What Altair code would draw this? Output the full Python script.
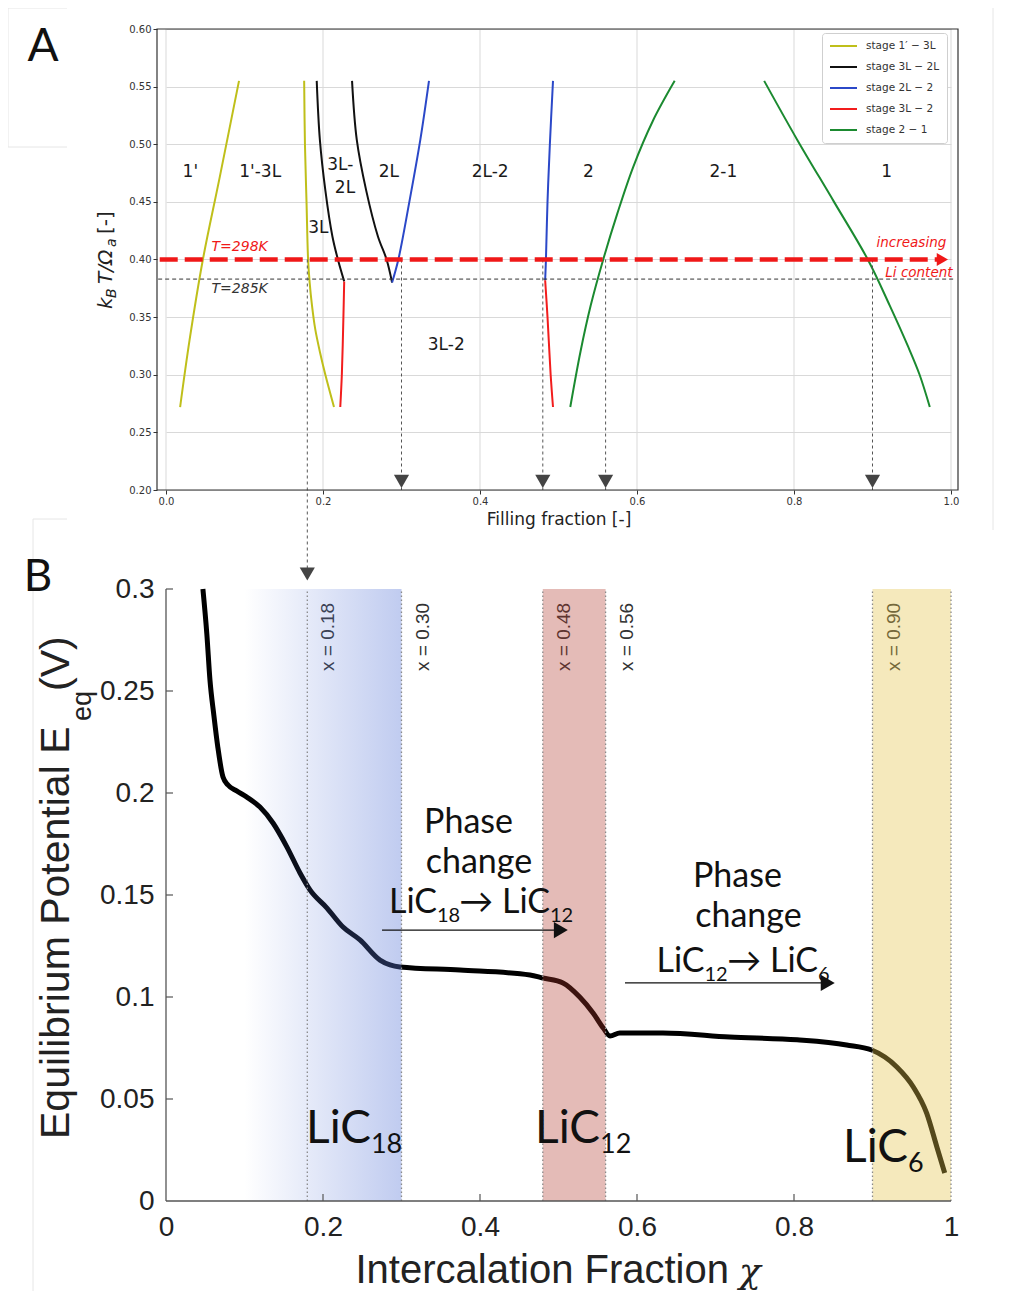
import altair as alt
import pandas as pd

# ======================= Panel A : phase diagram =======================
stages = ["stage 1′ − 3L", "stage 3L − 2L", "stage 2L − 2", "stage 3L − 2", "stage 2 − 1"]
stage_colors = ["#bfbf1a", "#111111", "#2b48c8", "#f21d1d", "#1b8a30"]

yel_L_x = [0.018, 0.030, 0.047, 0.068, 0.093]
yel_L_y = [0.272, 0.330, 0.400, 0.470, 0.555]
yel_R_x = [0.176, 0.177, 0.179, 0.181, 0.183, 0.186, 0.190, 0.196, 0.203, 0.214]
yel_R_y = [0.555, 0.500, 0.450, 0.400, 0.380, 0.360, 0.340, 0.320, 0.300, 0.272]
blk_L_x = [0.192, 0.196, 0.203, 0.212, 0.219, 0.227]
blk_L_y = [0.555, 0.504, 0.460, 0.420, 0.400, 0.381]
blk_R_x = [0.237, 0.243, 0.255, 0.270, 0.281, 0.288]
blk_R_y = [0.555, 0.504, 0.460, 0.420, 0.400, 0.380]
blu_L_x = [0.288, 0.296, 0.310, 0.324, 0.335]
blu_L_y = [0.380, 0.400, 0.450, 0.504, 0.555]
blu_R_x = [0.493, 0.489, 0.486, 0.484, 0.483]
blu_R_y = [0.555, 0.500, 0.450, 0.400, 0.382]
red_L_x = [0.227, 0.226, 0.224, 0.222]
red_L_y = [0.381, 0.350, 0.300, 0.272]
red_R_x = [0.483, 0.486, 0.490, 0.493]
red_R_y = [0.382, 0.350, 0.300, 0.272]
grn_L_x = [0.515, 0.528, 0.541, 0.557, 0.575, 0.595, 0.620, 0.648]
grn_L_y = [0.272, 0.320, 0.360, 0.400, 0.440, 0.480, 0.520, 0.555]
grn_R_x = [0.762, 0.804, 0.851, 0.894, 0.922, 0.945, 0.960, 0.973]
grn_R_y = [0.555, 0.504, 0.450, 0.400, 0.360, 0.325, 0.300, 0.272]

region_labels = ["1'", "1'-3L", "3L-", "2L", "2L", "2L-2", "2", "2-1", "1", "3L", "3L-2"]
region_x = [0.031, 0.120, 0.222, 0.228, 0.284, 0.413, 0.538, 0.710, 0.918, 0.194, 0.357]
region_y = [0.476, 0.476, 0.482, 0.462, 0.476, 0.476, 0.476, 0.476, 0.476, 0.427, 0.326]

T298 = 0.400
T285 = 0.383
marker_x = [0.30, 0.48, 0.56, 0.90]
link_x = 0.18
gridA_x = [0.0, 0.2, 0.4, 0.6, 0.8, 1.0]
ticksA_y = [0.20, 0.25, 0.30, 0.35, 0.40, 0.45, 0.50, 0.55, 0.60]

# ======================= Panel B : equilibrium potential =======================
chi = [0.047, 0.052, 0.056, 0.061, 0.066, 0.0726, 0.079, 0.090, 0.103, 0.1197,
       0.1363, 0.1541, 0.1707, 0.1834, 0.2051, 0.2255, 0.2471, 0.2726, 0.2854, 0.298,
       0.3745, 0.4637, 0.480, 0.5057, 0.527, 0.544, 0.557, 0.5656, 0.578, 0.633,
       0.718, 0.804, 0.867, 0.899, 0.931, 0.952, 0.969, 0.982, 0.992]
E_eq = [0.300, 0.278, 0.2554, 0.238, 0.2225, 0.2078, 0.2039, 0.201, 0.198, 0.1931,
        0.1853, 0.1735, 0.1608, 0.1525, 0.1436, 0.1343, 0.128, 0.1181, 0.1157, 0.1147,
        0.1132, 0.1108, 0.1093, 0.1069, 0.100, 0.0922, 0.0848, 0.0809, 0.0824, 0.0824,
        0.0804, 0.079, 0.0765, 0.074, 0.0657, 0.0559, 0.0431, 0.0265, 0.0137]

boundaries = [0.18, 0.30, 0.48, 0.56, 0.90]
boundary_labels = ["x = 0.18", "x = 0.30", "x = 0.48", "x = 0.56", "x = 0.90"]
dotted_x = [0.18, 0.30, 0.48, 0.56, 0.90, 1.0]
blue_band = [0.10, 0.30]
red_band = [0.48, 0.56]
yellow_band = [0.90, 1.00]
ticksB_x = [0.2, 0.4, 0.6, 0.8]
ticksB_y = [0.05, 0.10, 0.15, 0.20, 0.25, 0.30]

# ---------------------------------------------------------------------------
W, H = 801, 1172
TOP_H = 461

xs_top = alt.Scale(domain=[0, 1], range=[9, 794], nice=False, zero=False)
ys_top = alt.Scale(domain=[0.2, 0.6], range=[TOP_H, 0], nice=False, zero=False)
xs_bot = alt.Scale(domain=[0, 1], range=[9, 794], nice=False, zero=False)
ys_bot = alt.Scale(domain=[0, 0.3], range=[H, 560], nice=False, zero=False)

ax_xtop = alt.Axis(orient="bottom", offset=-(H - TOP_H), values=gridA_x, format=".1f",
                   labelFont="DejaVu Sans", labelFontSize=10, labelColor="#333",
                   labelFlush=False, tickColor="#333", tickSize=4, domain=False, grid=False,
                   title="Filling fraction [-]", titleFont="DejaVu Sans", titleFontSize=17,
                   titleFontWeight="normal", titleColor="#222", titlePadding=5)
ax_ytop = alt.Axis(orient="left", values=ticksA_y, format=".2f",
                   labelFont="DejaVu Sans", labelFontSize=10, labelColor="#333",
                   labelFlush=False, tickColor="#333", tickSize=4, domain=False,
                   grid=True, gridColor="#d9d9d9", gridWidth=1, title=None)
ax_xbot = alt.Axis(orient="bottom", values=[0, 0.2, 0.4, 0.6, 0.8, 1.0], format="~g",
                   labelFont="Liberation Sans", labelFontSize=28, labelColor="#222",
                   labelFlush=False, ticks=False, domain=False, grid=False, labelPadding=12,
                   title=None)
ax_ybot = alt.Axis(orient="left", values=[0] + ticksB_y, format="~g",
                   labelFont="Liberation Sans", labelFontSize=28, labelColor="#222",
                   labelFlush=False, ticks=False, domain=False, grid=False, labelPadding=3,
                   title=None)


def XT(f="x"):
    return alt.X(f, type="quantitative", scale=xs_top, axis=ax_xtop)


def YT(f="y"):
    return alt.Y(f, type="quantitative", scale=ys_top, axis=ax_ytop)


def XB(f="x"):
    return alt.X(f, type="quantitative", scale=xs_bot, axis=ax_xbot)


def YB(f="y"):
    return alt.Y(f, type="quantitative", scale=ys_bot, axis=ax_ybot)


ONE = alt.Data(values=[{"a": 1}])

# ----------------------------- Panel A layers -----------------------------
branches = [
    (stages[0], "y1", yel_L_x, yel_L_y), (stages[0], "y2", yel_R_x, yel_R_y),
    (stages[1], "k1", blk_L_x, blk_L_y), (stages[1], "k2", blk_R_x, blk_R_y),
    (stages[2], "b1", blu_L_x, blu_L_y), (stages[2], "b2", blu_R_x, blu_R_y),
    (stages[3], "r1", red_L_x, red_L_y), (stages[3], "r2", red_R_x, red_R_y),
    (stages[4], "g1", grn_L_x, grn_L_y), (stages[4], "g2", grn_R_x, grn_R_y),
]
rows = []
for st, bid, xs, ys in branches:
    for i, (xv, yv) in enumerate(zip(xs, ys)):
        rows.append({"stage": st, "branch": bid, "order": i, "x": xv, "y": yv})
curves_df = pd.DataFrame(rows)

gridv = alt.Chart(pd.DataFrame({"x": gridA_x, "y0": [0.2] * len(gridA_x),
                                "y1": [0.6] * len(gridA_x)})).mark_rule(
    color="#d9d9d9", strokeWidth=1).encode(x=XT(), y=YT("y0"), y2="y1")

legend = alt.Legend(title=None, orient="none", legendX=665, legendY=4,
                    symbolType="stroke", symbolStrokeWidth=2, symbolSize=729,
                    clipHeight=12, rowPadding=9, labelFont="DejaVu Sans",
                    labelFontSize=10.5, labelColor="#333", labelOffset=8,
                    fillColor="white", strokeColor="#cfcfcf", padding=7,
                    cornerRadius=3)

curves = alt.Chart(curves_df).mark_line(strokeWidth=2, interpolate="catmull-rom").encode(
    x=XT(), y=YT(),
    color=alt.Color("stage:N", scale=alt.Scale(domain=stages, range=stage_colors),
                    legend=legend),
    detail="branch:N", order="order:Q")

regions = alt.Chart(pd.DataFrame({"x": region_x, "y": region_y, "t": region_labels})).mark_text(
    font="DejaVu Sans", fontSize=17, color="#1a1a1a").encode(x=XT(), y=YT(), text="t:N")

t285 = alt.Chart(pd.DataFrame({"x0": [-0.01], "x1": [1.003], "y": [T285]})).mark_rule(
    color="#333", strokeWidth=1, strokeDash=[4, 3]).encode(x=XT("x0"), x2="x1", y=YT())

vmarks = alt.Chart(pd.DataFrame({"x": marker_x, "y0": [T298] * 4, "y1": [0.2] * 4})).mark_rule(
    color="#555", strokeWidth=1, strokeDash=[3, 3]).encode(x=XT(), y=YT("y0"), y2="y1")

link = alt.Chart(pd.DataFrame({"x": [link_x], "y0": [T298]})).mark_rule(
    color="#555", strokeWidth=1, strokeDash=[3, 3]).encode(
    x=XT(), y=YT("y0"), y2=alt.value(541))

tri = alt.Chart(pd.DataFrame({"x": marker_x, "y": [0.2075] * 4})).mark_point(
    shape="triangle-down", filled=True, size=230, color="#444", opacity=1).encode(x=XT(), y=YT())

link_tri = alt.Chart(pd.DataFrame({"x": [link_x]})).mark_point(
    shape="triangle-down", filled=True, size=230, color="#444", opacity=1).encode(
    x=XT(), y=alt.value(545))

t298 = alt.Chart(pd.DataFrame({"x0": [-0.008], "x1": [0.984], "y": [T298]})).mark_rule(
    color="#f01818", strokeWidth=4.5, strokeDash=[18, 7]).encode(x=XT("x0"), x2="x1", y=YT())

t298_head = alt.Chart(pd.DataFrame({"x": [0.989], "y": [T298]})).mark_point(
    shape="triangle-right", filled=True, size=170, color="#f01818", opacity=1).encode(
    x=XT(), y=YT())

red_txt = alt.Chart(pd.DataFrame({"x": [0.058], "y": [0.4105], "t": ["T=298K"]})).mark_text(
    font="DejaVu Sans", fontStyle="italic", fontSize=14, color="#f01818", align="left").encode(
    x=XT(), y=YT(), text="t:N")
dark_txt = alt.Chart(pd.DataFrame({"x": [0.058], "y": [0.3745], "t": ["T=285K"]})).mark_text(
    font="DejaVu Sans", fontStyle="italic", fontSize=14, color="#333", align="left").encode(
    x=XT(), y=YT(), text="t:N")
li_txt = alt.Chart(pd.DataFrame({"x": [0.994, 1.002], "y": [0.4145, 0.3885],
                                 "t": ["increasing", "Li content"]})).mark_text(
    font="DejaVu Sans", fontStyle="italic", fontSize=13.5, color="#f01818", align="right").encode(
    x=XT(), y=YT(), text="t:N")

frame = alt.Chart(ONE).mark_rect(fillOpacity=0, stroke="#333", strokeWidth=1.2).encode(
    x=alt.value(0), x2=alt.value(W), y=alt.value(0), y2=alt.value(TOP_H))

# rotated y-title pieces for panel A:  k_B T/Ω_a [-]
ytA_it = alt.Chart(pd.DataFrame({
    "t": ["k", "B", "T/Ω", "a"],
    "px": [-51, -45, -51, -45],
    "py": [280, 269, 255, 218],
    "fs": [20, 14, 20, 14],
})).mark_text(font="DejaVu Sans", fontStyle="italic", angle=270, align="left",
              baseline="middle", color="#222").encode(
    x=alt.X("px:Q", scale=None), y=alt.Y("py:Q", scale=None), text="t:N",
    size=alt.Size("fs:Q", scale=None, legend=None))
ytA_up = alt.Chart(pd.DataFrame({"t": ["[-]"], "px": [-51], "py": [205]})).mark_text(
    font="DejaVu Sans", fontSize=20, angle=270, align="left", baseline="middle",
    color="#222").encode(x=alt.X("px:Q", scale=None), y=alt.Y("py:Q", scale=None), text="t:N")

panelA_lbl = alt.Chart(ONE).mark_text(font="Lato", fontSize=46, color="#111").encode(
    x=alt.value(-114), y=alt.value(18), text=alt.value("A"))

# faint frame remnants of the composed figure
deco = alt.Chart(pd.DataFrame({
    "x0": [-149, -149, -149, 836, -124, -124],
    "x1": [-90, -149, -90, 836, -124, -90],
    "y0": [-21, -21, 118, -29, 490, 490],
    "y1": [-21, 118, 118, 501, 1262, 490],
})).mark_rule(color="#e6e6e6", strokeWidth=1).encode(
    x=alt.X("x0:Q", scale=None), x2="x1:Q", y=alt.Y("y0:Q", scale=None), y2="y1:Q")

top = alt.layer(deco, gridv, curves, regions, t285, vmarks, link, tri, link_tri, t298, t298_head,
                red_txt, dark_txt, li_txt, frame, ytA_it, ytA_up, panelA_lbl)

# ----------------------------- Panel B layers -----------------------------
curve = alt.Chart(pd.DataFrame({"x": chi, "y": E_eq})).mark_line(
    color="black", strokeWidth=5, interpolate="monotone").encode(x=XB(), y=YB())

blabels = alt.Chart(pd.DataFrame({"x": boundaries, "y": [0.2765] * 5, "t": boundary_labels})).mark_text(
    font="Liberation Sans", fontSize=19, color="#333", angle=270, dy=21,
    align="center", baseline="middle").encode(x=XB(), y=YB(), text="t:N")

grad = alt.Gradient(gradient="linear",
                    stops=[alt.GradientStop(offset=0, color="rgba(90,120,215,0)"),
                           alt.GradientStop(offset=1, color="rgba(90,120,215,0.38)")],
                    x1=0, x2=1, y1=0, y2=0)
band_blue = alt.Chart(pd.DataFrame({"x0": [blue_band[0]], "x1": [blue_band[1]],
                                    "y0": [0.0], "y1": [0.3]})).mark_rect(color=grad).encode(
    x=XB("x0"), x2="x1", y=YB("y0"), y2="y1")
band_red = alt.Chart(pd.DataFrame({"x0": [red_band[0]], "x1": [red_band[1]],
                                   "y0": [0.0], "y1": [0.3]})).mark_rect(
    color="#b0372b", opacity=0.34).encode(x=XB("x0"), x2="x1", y=YB("y0"), y2="y1")
band_yel = alt.Chart(pd.DataFrame({"x0": [yellow_band[0]], "x1": [yellow_band[1]],
                                   "y0": [0.0], "y1": [0.3]})).mark_rect(
    color="#e5c34a", opacity=0.37).encode(x=XB("x0"), x2="x1", y=YB("y0"), y2="y1")

dotted = alt.Chart(pd.DataFrame({"x": dotted_x, "y0": [0.0] * 6, "y1": [0.3] * 6})).mark_rule(
    color="#8a8a8a", strokeWidth=1.3, strokeDash=[1.5, 2.5]).encode(x=XB(), y=YB("y0"), y2="y1")

axis_l = alt.Chart(pd.DataFrame({"x": [0.0], "y0": [0.0], "y1": [0.3]})).mark_rule(
    color="#555", strokeWidth=1.3).encode(x=XB(), y=YB("y0"), y2="y1")
axis_b = alt.Chart(pd.DataFrame({"x0": [0.0], "x1": [1.0], "y": [0.0]})).mark_rule(
    color="#555", strokeWidth=1.3).encode(x=XB("x0"), x2="x1", y=YB())
ticks_y = alt.Chart(pd.DataFrame({"y": ticksB_y})).mark_rule(color="#555", strokeWidth=1.2).encode(
    y=YB(), x=alt.value(9), x2=alt.value(16))
ticks_x = alt.Chart(pd.DataFrame({"x": ticksB_x})).mark_rule(color="#555", strokeWidth=1.2).encode(
    x=XB(), y=alt.value(H), y2=alt.value(H - 7))

# x-axis title of panel B (italic chi)
xtitleB = alt.Chart(pd.DataFrame({"t": ["Intercalation Fraction"], "px": [572], "py": [1242]})).mark_text(
    font="Liberation Sans", fontSize=40, align="right", baseline="middle", color="#222").encode(
    x=alt.X("px:Q", scale=None), y=alt.Y("py:Q", scale=None), text="t:N")
xtitleB_chi = alt.Chart(pd.DataFrame({"t": ["χ"], "px": [582], "py": [1243]})).mark_text(
    font="DejaVu Serif", fontStyle="italic", fontSize=36, align="left", baseline="middle",
    color="#222").encode(
    x=alt.X("px:Q", scale=None), y=alt.Y("py:Q", scale=None), text="t:N")

# phase-change annotations
phase_words = ["Phase", "change", "Phase", "change"]
phase_x = [0.3854, 0.3987, 0.728, 0.742]
phase_y = [0.1804, 0.1608, 0.1539, 0.1343]
phase_txt = alt.Chart(pd.DataFrame({"x": phase_x, "y": phase_y, "t": phase_words})).mark_text(
    font="Lato", fontSize=34, color="#111", align="center", baseline="alphabetic").encode(
    x=XB(), y=YB(), text="t:N")

formula_main = alt.Chart(pd.DataFrame({
    "x": [0.3452, 0.4892, 0.6860, 0.8306],
    "y": [0.1412, 0.1412, 0.11225, 0.11225],
    "t": ["LiC", "→ LiC", "LiC", "→ LiC"]})).mark_text(
    font="Lato", fontSize=34, color="#111", align="right", baseline="alphabetic").encode(
    x=XB(), y=YB(), text="t:N")
formula_sub = alt.Chart(pd.DataFrame({
    "x": [0.3452, 0.4892, 0.6860, 0.8306],
    "y": [0.1370, 0.1370, 0.1080, 0.1080],
    "t": ["18", "12", "12", "6"]})).mark_text(
    font="Lato", fontSize=20, color="#111", align="left", baseline="alphabetic").encode(
    x=XB(), y=YB(), text="t:N")

arrows = alt.Chart(pd.DataFrame({"x0": [0.2752, 0.5847], "x1": [0.505, 0.845],
                                 "y": [0.1328, 0.1069]})).mark_rule(
    color="#111", strokeWidth=1.2).encode(x=XB("x0"), x2="x1", y=YB())
arrow_heads = alt.Chart(pd.DataFrame({"x": [0.503, 0.843], "y": [0.1328, 0.1069]})).mark_point(
    shape="triangle-right", filled=True, size=260, color="#111", opacity=1).encode(x=XB(), y=YB())

big_main = alt.Chart(pd.DataFrame({"x": [0.2611, 0.5529, 0.9452],
                                   "y": [0.0284, 0.0284, 0.0191],
                                   "t": ["LiC", "LiC", "LiC"]})).mark_text(
    font="Lato", fontSize=46, color="#111", align="right", baseline="alphabetic").encode(
    x=XB(), y=YB(), text="t:N")
big_sub = alt.Chart(pd.DataFrame({"x": [0.2611, 0.5529, 0.9452],
                                  "y": [0.0235, 0.0235, 0.0142],
                                  "t": ["18", "12", "6"]})).mark_text(
    font="Lato", fontSize=27, color="#111", align="left", baseline="alphabetic").encode(
    x=XB(), y=YB(), text="t:N")

# rotated y-title pieces for panel B:  Equilibrium Potential E_eq (V)
ytB = alt.Chart(pd.DataFrame({
    "t": ["Equilibrium Potential E", "eq", "(V)"],
    "px": [-100, -74, -100],
    "py": [1110, 692, 662],
    "fs": [41, 27, 41],
})).mark_text(font="Liberation Sans", angle=270, align="left", baseline="middle",
              color="#222").encode(
    x=alt.X("px:Q", scale=None), y=alt.Y("py:Q", scale=None), text="t:N",
    size=alt.Size("fs:Q", scale=None, legend=None))

panelB_lbl = alt.Chart(ONE).mark_text(font="Lato", fontSize=44, color="#111").encode(
    x=alt.value(-119), y=alt.value(549), text=alt.value("B"))

bottom = alt.layer(curve, blabels, band_blue, band_red, band_yel, dotted, axis_l, axis_b,
                   ticks_y, ticks_x, xtitleB, xtitleB_chi, phase_txt, formula_main, formula_sub,
                   arrows, arrow_heads, big_main, big_sub, ytB, panelB_lbl)

chart = alt.layer(top, bottom).resolve_scale(x="independent", y="independent").properties(
    width=W, height=H,
    autosize=alt.AutoSizeParams(type="none"),
    padding={"left": 149, "top": 21, "right": 60, "bottom": 92},
    background="white",
).configure_view(stroke="transparent")

chart.save("out.html", embed_options={"renderer": "svg", "actions": False})
